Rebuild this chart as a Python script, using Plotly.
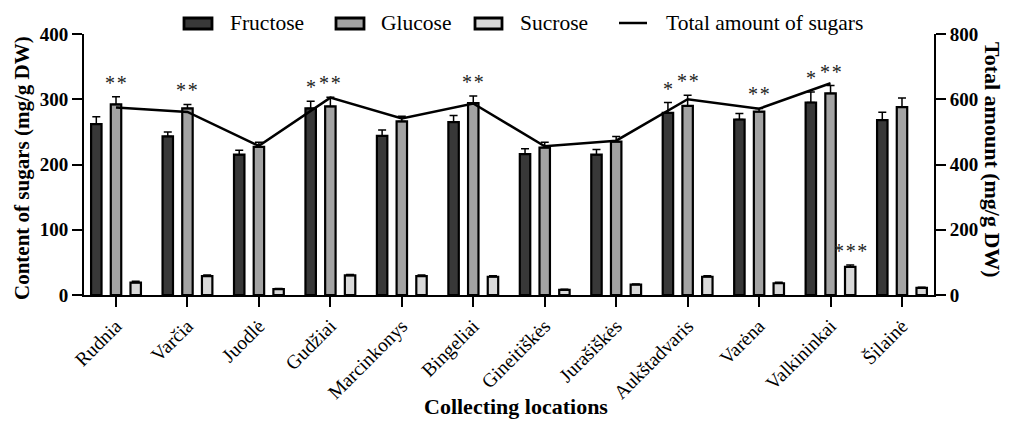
import plotly.graph_objects as go

locations = ["Rudnia", "Varčia", "Juodlė", "Gudžiai", "Marcinkonys", "Bingeliai",
             "Gineitiškės", "Jurašiškės", "Aukštadvaris", "Varėna", "Valkininkai", "Šilainė"]

fructose = [262, 243, 215, 286, 244, 265, 216, 215, 279, 269, 295, 268]
fructose_err = [11, 7, 7, 11, 9, 10, 8, 8, 16, 9, 16, 12]
glucose = [292, 286, 227, 289, 266, 294, 226, 235, 290, 281, 309, 288]
glucose_err = [12, 6, 7, 14, 8, 11, 8, 8, 16, 5, 12, 14]
sucrose = [19, 29, 9, 30, 29, 28, 8, 16, 28, 18, 43, 11]
sucrose_err = [2, 1.5, 1, 1.5, 1.5, 1.5, 1, 1, 1.5, 1.5, 3, 1]
total = [575, 561, 457, 605, 541, 587, 456, 473, 600, 571, 649, None]

fructose_sig = ["", "", "", "*", "", "", "", "", "*", "", "*", ""]
glucose_sig = ["**", "**", "", "**", "", "**", "", "", "**", "**", "**", ""]
sucrose_sig = ["", "", "", "", "", "", "", "", "", "", "***", ""]

FONT = "Liberation Serif, Times New Roman, serif"
C_FRU, C_GLU, C_SUC = "#383838", "#a3a3a3", "#d9d9d9"

fig = go.Figure()


def add_bar(name, vals, errs, color):
    fig.add_trace(go.Bar(
        x=locations, y=vals, name=name, showlegend=False,
        marker=dict(color=color, line=dict(color="black", width=2.2)),
        error_y=dict(type="data", array=errs, arrayminus=[0] * len(errs),
                     symmetric=False, color="black", thickness=1.5, width=4),
    ))


add_bar("Fructose", fructose, fructose_err, C_FRU)
add_bar("Glucose", glucose, glucose_err, C_GLU)
add_bar("Sucrose", sucrose, sucrose_err, C_SUC)

fig.add_trace(go.Scatter(
    x=locations, y=total, yaxis="y2", mode="lines", name="Total amount of sugars",
    line=dict(color="black", width=2.5), showlegend=False, connectgaps=False,
))

# page offset (browser body margin) and screen geometry of the plot area
OFF = 8
W, H = 1011 - OFF, 423 - OFF
SX0, SX1, SY0, SY1 = 84, 934, 34, 295   # plot area in screen pixels
L = SX0 - OFF
T = SY0 - OFF
R = W - (SX1 - OFF)
B = H - (SY1 - OFF)
pw = SX1 - SX0
ph = SY1 - SY0
xr = [-0.448, 11.448]
cat_px = pw / (xr[1] - xr[0])
slot_px = cat_px * (1 - 0.173) / 3

annotations = []
for sig, vals, errs, off in [(fructose_sig, fructose, fructose_err, -1),
                             (glucose_sig, glucose, glucose_err, 0),
                             (sucrose_sig, sucrose, sucrose_err, 1)]:
    for loc, s, v, e in zip(locations, sig, vals, errs):
        if s:
            annotations.append(dict(
                x=loc, y=v + e, xref="x", yref="y", text="\u200a".join(s), showarrow=False,
                xshift=off * slot_px, yshift=14, yanchor="middle", xanchor="center",
                font=dict(family=FONT, size=20, color="#222222"),
            ))


def px2x(p):
    return (p - SX0) / pw


def px2y(p):
    return (SY1 - p) / ph


# axis titles
annotations.append(dict(x=px2x(22), y=px2y(168), xref="paper", yref="paper",
                        xanchor="center", yanchor="middle",
                        text="Content of sugars (mg/g DW)", textangle=-90, showarrow=False,
                        font=dict(family=FONT, size=21, color="black", weight="bold")))
annotations.append(dict(x=px2x(993), y=px2y(160), xref="paper", yref="paper",
                        xanchor="center", yanchor="middle",
                        text="Total amount (mg/g DW)", textangle=90, showarrow=False,
                        font=dict(family=FONT, size=22, color="black", weight="bold")))
annotations.append(dict(x=px2x(516), y=px2y(406), xref="paper", yref="paper",
                        xanchor="center", yanchor="middle",
                        text="Collecting locations", showarrow=False,
                        font=dict(family=FONT, size=22, color="black", weight="bold")))

# manual legend
shapes = []
leg_items = [("Fructose", C_FRU, 184, 212, 228),
             ("Glucose", C_GLU, 336, 364, 379),
             ("Sucrose", C_SUC, 475, 502, 518)]
for name, col, x0, x1, tx in leg_items:
    shapes.append(dict(type="rect", xref="paper", yref="paper",
                       x0=px2x(x0), x1=px2x(x1), y0=px2y(29), y1=px2y(18),
                       fillcolor=col, line=dict(color="black", width=2.8)))
    annotations.append(dict(x=px2x(tx), y=px2y(23), xref="paper", yref="paper",
                            text=name, showarrow=False, xanchor="left", yanchor="middle",
                            font=dict(family=FONT, size=21.5, color="black")))
shapes.append(dict(type="line", xref="paper", yref="paper",
                   x0=px2x(619), x1=px2x(647), y0=px2y(23), y1=px2y(23),
                   line=dict(color="black", width=2.5)))
annotations.append(dict(x=px2x(664), y=px2y(23), xref="paper", yref="paper",
                        text="Total amount of sugars", showarrow=False, xanchor="left",
                        yanchor="middle", font=dict(family=FONT, size=21.5, color="black")))

fig.update_layout(
    width=W, height=H,
    margin=dict(l=L, r=R, t=T, b=B, pad=0, autoexpand=False),
    paper_bgcolor="white", plot_bgcolor="white",
    barmode="group", bargap=0.173, bargroupgap=0.47,
    font=dict(family=FONT, color="black"),
    xaxis=dict(range=xr, showline=True, linecolor="black", linewidth=2,
               ticks="outside", ticklen=10, tickwidth=1.5, tickcolor="black",
               tickangle=-45, tickfont=dict(family=FONT, size=19.5, color="black"),
               showgrid=False, zeroline=False, automargin=False),
    yaxis=dict(range=[0, 400], dtick=100, showline=True, linecolor="black", linewidth=2,
               ticks="outside", ticklen=10, tickwidth=2, tickcolor="black",
               tickfont=dict(family=FONT, size=19, color="black", weight="bold"),
               showgrid=False, zeroline=False, automargin=False),
    yaxis2=dict(range=[0, 800], dtick=200, overlaying="y", side="right", anchor="x",
                showline=True, linecolor="black", linewidth=2,
                ticks="outside", ticklen=10, tickwidth=2, tickcolor="black",
                tickfont=dict(family=FONT, size=19, color="black", weight="bold"),
                showgrid=False, zeroline=False, automargin=False),
    annotations=annotations, shapes=shapes,
)

fig.write_html("out.html")
